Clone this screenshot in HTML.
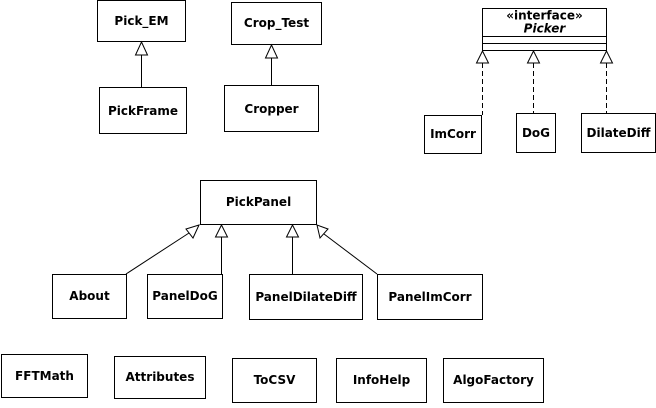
<!DOCTYPE html>
<html><head><style>
body{margin:0;background:#fff;width:656px;height:403px;overflow:hidden}
svg text{font-family:"DejaVu Sans",sans-serif;font-weight:bold;font-size:12px;text-anchor:middle;dominant-baseline:central}
</style></head><body>
<svg width="656" height="403" xmlns="http://www.w3.org/2000/svg" fill="none" stroke="#000" stroke-width="1">
<g fill="#fff">
<rect x="97.5" y="0.5" width="88" height="41"/>
<rect x="99.5" y="87.5" width="87" height="46"/>
<rect x="231.5" y="2.5" width="90" height="42"/>
<rect x="224.5" y="85.5" width="94" height="46"/>
<rect x="482.5" y="8.5" width="124" height="42"/>
<rect x="424.5" y="115.5" width="57" height="38"/>
<rect x="516.5" y="113.5" width="39" height="39"/>
<rect x="581.5" y="113.5" width="74" height="39"/>
<rect x="200.5" y="180.5" width="116" height="44"/>
<rect x="52.5" y="274.5" width="74" height="44"/>
<rect x="147.5" y="274.5" width="75" height="44"/>
<rect x="249.5" y="274.5" width="113" height="45"/>
<rect x="377.5" y="274.5" width="105" height="45"/>
<rect x="1.5" y="354.5" width="86" height="43"/>
<rect x="114.5" y="356.5" width="91" height="42"/>
<rect x="232.5" y="358.5" width="84" height="44"/>
<rect x="336.5" y="358.5" width="90" height="44"/>
<rect x="443.5" y="358.5" width="100" height="44"/>
</g>
<line x1="482.5" y1="36.5" x2="606.5" y2="36.5"/>
<line x1="482.5" y1="43.5" x2="606.5" y2="43.5"/>
<line x1="141.5" y1="55" x2="141.5" y2="87"/>
<polygon points="141.5,42 135.5,55 147.5,55" fill="#fff"/>
<line x1="271.5" y1="58" x2="271.5" y2="85"/>
<polygon points="271.5,45 265.5,58 277.5,58" fill="#fff"/>
<g stroke-dasharray="5,3">
<line x1="482.5" y1="63" x2="482.5" y2="115"/>
<line x1="533.5" y1="63" x2="533.5" y2="113"/>
<line x1="606.5" y1="63" x2="606.5" y2="113"/>
</g>
<polygon points="482.5,51 476.5,63 488.5,63" fill="#fff"/>
<polygon points="533.5,51 527.5,63 539.5,63" fill="#fff"/>
<polygon points="606.5,51 600.5,63 612.5,63" fill="#fff"/>
<line x1="126" y1="274" x2="189" y2="233"/>
<polygon points="199,225 186,229 193,238" fill="#fff"/>
<line x1="221.5" y1="237" x2="221.5" y2="274"/>
<polygon points="221.5,225 215.5,237 227.5,237" fill="#fff"/>
<line x1="292.5" y1="237" x2="292.5" y2="274"/>
<polygon points="292.5,225 286.5,237 298.5,237" fill="#fff"/>
<line x1="377" y1="274" x2="324" y2="234"/>
<polygon points="317,225 320,238 328,229" fill="#fff"/>
<g fill="#000" stroke="none">
<text x="141.5" y="21">Pick_EM</text>
<text x="143" y="111">PickFrame</text>
<text x="276.5" y="23">Crop_Test</text>
<text x="271.5" y="109">Cropper</text>
<text x="544.5" y="15.5" style="font-size:12px">«interface»</text>
<text x="544.5" y="28.5" style="font-size:12px;font-style:italic">Picker</text>
<text x="453" y="134">ImCorr</text>
<text x="536" y="133">DoG</text>
<text x="618.5" y="133">DilateDiff</text>
<text x="258.5" y="202">PickPanel</text>
<text x="89.5" y="296">About</text>
<text x="185" y="296">PanelDoG</text>
<text x="306" y="297">PanelDilateDiff</text>
<text x="430" y="297">PanelImCorr</text>
<text x="44.5" y="376">FFTMath</text>
<text x="160" y="377">Attributes</text>
<text x="274.5" y="380">ToCSV</text>
<text x="381.5" y="380">InfoHelp</text>
<text x="493.5" y="380">AlgoFactory</text>
</g>
</svg>
</body></html>
